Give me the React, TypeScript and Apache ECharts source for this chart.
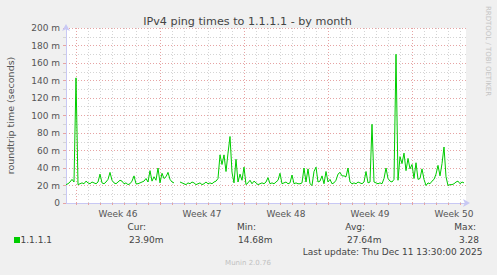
import React, { useEffect, useRef } from 'react';
import * as echarts from 'echarts';

// 4-hour slots, index 0 = left edge of the plot
const pingMs: (number | null)[] = [
  21, 22, 24, 27, 24, 143, 21, 22, 23, 22,
  25, 23, 22, 24, 23, 22, 24, 33, 23, 22,
  24, 27, 35, 26, 23, 22, 24, 26, 25, 22,
  23, 21, 22, 25, 31, 22, 22, 23, 24, 25,
  28, 24, 37, 25, 30, 26, 40, 23, 34, 28,
  30, 35, 27, 24, 23, null, null, 24, 23, 22,
  21, 23, 22, 24, 23, 21, 22, 23, 21, 22,
  24, 22, 23, 22, 24, 25, 28, 55, 44, 55,
  36, 57, 76, 35, 23, 50, 24, 33, 26, 41,
  21, 23, 26, 22, 25, 23, 21, 22, 23, 22,
  24, 29, 22, 23, 22, 24, 26, 34, 22, 23,
  24, 22, 23, 32, 22, 23, 22, 22, 23, 40,
  24, 39, 22, 20, 36, 41, 24, 25, 31, 22,
  36, 24, 27, 22, 23, 26, 33, 35, 31, 31,
  30, 40, 24, 22, 23, 22, 24, 23, 22, 24,
  36, 23, 24, 90, 24, 23, 22, 23, 22, 28,
  40, 28, 25, 24, 27, 170, 26, 53, 45, 57,
  37, 51, 39, 44, 28, 46, 27, 28, 39, 27,
  20, 23, 22, 25, 27, 33, 43, 31, 45, 64,
  30, 20, 21, 21, 22, 24, 25, 22, 24, 23,
  null,
];
const slots = pingMs.map((_, i) => String(i));

const weekLabels = ['Week 46', 'Week 47', 'Week 48', 'Week 49', 'Week 50'];
const yTicks = [0, 20, 40, 60, 80, 100, 120, 140, 160, 180, 200];

const seriesName = '1.1.1.1';
const legendHeaders = ['Cur:', 'Min:', 'Avg:', 'Max:'];
const legendValues = ['23.90m', '14.68m', '27.64m', '3.28'];
const lastUpdate = 'Last update: Thu Dec 11 13:30:00 2025';
const titleText = 'IPv4 ping times to 1.1.1.1 - by month';
const yName = 'roundtrip time (seconds)';
const sideText = 'RRDTOOL / TOBI OETIKER';
const footer = 'Munin 2.0.76';

const FIRST_DAY = 5;
const SLOTS_PER_DAY = 6;
const FIRST_LABEL = 26;
const SLOTS_PER_WEEK = 42;

const FONT = 'DejaVu Sans';
const GREEN = '#00cc00';
const MAJOR = '#e6a3a3';
const MINOR = '#d4d4d4';
const AXIS = '#c8c8f4';

export default function App() {
  const ref = useRef<HTMLDivElement>(null);
  useEffect(() => {
    if (!ref.current) return;
    const chart = echarts.init(ref.current, undefined, { renderer: 'svg' });
    const headerRight = [146, 256, 365, 476];
    const valueLeft = [129, 238, 347, 459];
    const graphics: any[] = [
      {
        type: 'text', x: 247.5, y: 21,
        style: { text: titleText, fill: '#444', font: `11.2px "${FONT}"`, textAlign: 'center', textVerticalAlign: 'middle' },
      },
      {
        type: 'text', x: 487.5, y: 51, rotation: -Math.PI / 2,
        style: { text: sideText, fill: '#c4c4c4', font: `7px "${FONT}"`, textAlign: 'center', textVerticalAlign: 'middle' },
      },
      { type: 'rect', shape: { x: 14, y: 237, width: 6, height: 6 }, style: { fill: GREEN } },
      {
        type: 'text', x: 20.5, y: 239.5,
        style: { text: seriesName, fill: '#444', font: `9px "${FONT}"`, textAlign: 'left', textVerticalAlign: 'middle' },
      },
      {
        type: 'text', x: 482.5, y: 251.5,
        style: { text: lastUpdate, fill: '#444', font: `9px "${FONT}"`, textAlign: 'right', textVerticalAlign: 'middle' },
      },
      {
        type: 'text', x: 248, y: 262.5,
        style: { text: footer, fill: '#c0c0c0', font: `7px "${FONT}"`, textAlign: 'center', textVerticalAlign: 'middle' },
      },
    ];
    legendHeaders.forEach((h, i) => {
      graphics.push({
        type: 'text', x: headerRight[i], y: 227,
        style: { text: h, fill: '#444', font: `9px "${FONT}"`, textAlign: 'right', textVerticalAlign: 'middle' },
      });
      graphics.push({
        type: 'text', x: valueLeft[i], y: 239.5,
        style: { text: legendValues[i], fill: '#444', font: `9px "${FONT}"`, textAlign: 'left', textVerticalAlign: 'middle' },
      });
    });

    const dayColors = [MAJOR, MINOR, MINOR, MINOR, MINOR, MINOR, MINOR];
    const isDay = (i: number) => i >= FIRST_DAY && (i - FIRST_DAY) % SLOTS_PER_DAY === 0;

    chart.setOption({
      animation: false,
      backgroundColor: '#f0f0f0',
      textStyle: { fontFamily: FONT },
      grid: {
        left: 66, top: 28, width: 400, height: 175,
        containLabel: false,
        outerBoundsMode: 'none',
        show: true, backgroundColor: '#ffffff', borderWidth: 0,
      },
      xAxis: {
        type: 'category',
        data: slots,
        boundaryGap: false,
        axisLine: {
          show: true,
          lineStyle: { color: AXIS, width: 1 },
          symbol: ['none', 'arrow'],
          symbolSize: [6, 7],
          symbolOffset: [0, 4],
        },
        axisTick: {
          show: true, length: 2, interval: (i: number) => isDay(i),
          lineStyle: { color: MAJOR },
        },
        axisLabel: {
          interval: (i: number) => i >= FIRST_LABEL && (i - FIRST_LABEL) % SLOTS_PER_WEEK === 0,
          formatter: (_v: string, i: number) => weekLabels[(i - FIRST_LABEL) / SLOTS_PER_WEEK] ?? '',
          color: '#555', fontSize: 9, fontFamily: FONT, margin: 6,
        },
        splitLine: {
          show: true,
          interval: (i: number) => isDay(i),
          lineStyle: { color: dayColors, type: [1, 2], width: 1 },
        },
      },
      yAxis: {
        type: 'value',
        min: 0, max: 200, interval: 20,
        name: yName,
        nameLocation: 'middle',
        nameGap: 51,
        nameRotate: 90,
        nameTextStyle: { color: '#555', fontSize: 9.5, fontFamily: FONT },
        axisLine: {
          show: true,
          lineStyle: { color: AXIS, width: 1 },
          symbol: ['none', 'arrow'],
          symbolSize: [6, 7],
          symbolOffset: [0, 4],
        },
        axisTick: { show: true, length: 3, lineStyle: { color: MAJOR } },
        minorTick: { show: true, splitNumber: 2, length: 3, lineStyle: { color: MINOR } },
        axisLabel: {
          formatter: (v: number) => (yTicks.includes(v) && v !== 0 ? `${v} m` : '0'),
          color: '#555', fontSize: 9, fontFamily: FONT, margin: 6,
        },
        splitLine: { show: true, lineStyle: { color: MAJOR, type: [1, 2], width: 1 } },
        minorSplitLine: { show: true, lineStyle: { color: MINOR, type: [1, 2], width: 1 } },
      },
      series: [
        {
          name: seriesName,
          type: 'line',
          data: pingMs,
          showSymbol: false,
          symbol: 'none',
          connectNulls: false,
          lineStyle: { color: GREEN, width: 1 },
          itemStyle: { color: GREEN },
          z: 5,
        },
      ],
      graphic: graphics,
    });
    return () => chart.dispose();
  }, []);
  return (
    <div
      ref={ref}
      style={{ position: 'fixed', left: 0, top: 0, width: 497, height: 275 }}
    />
  );
}
